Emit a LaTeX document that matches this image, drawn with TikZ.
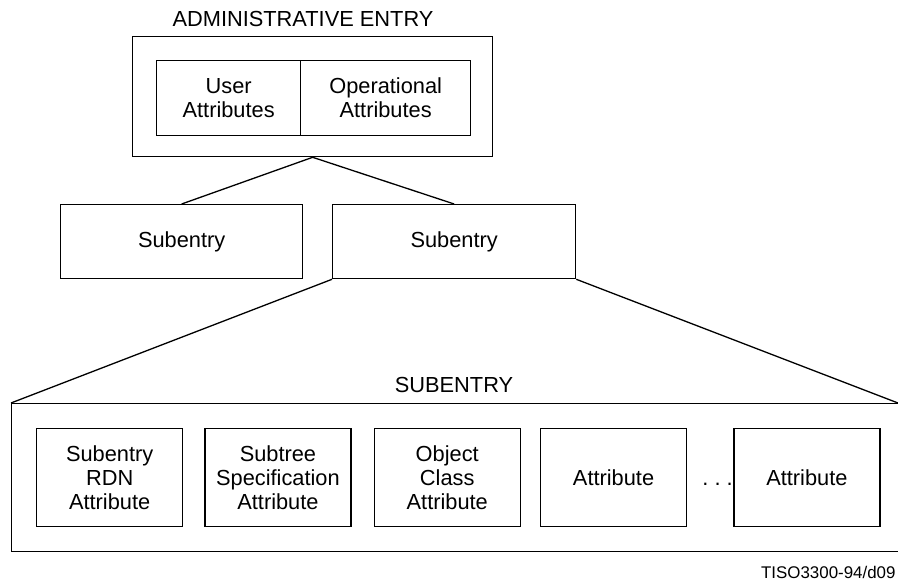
\documentclass[tikz,border=0pt]{standalone}
\usepackage{fontspec}
\setmainfont{Liberation Sans}
\usetikzlibrary{positioning}
\tikzset{
  box/.style = {draw, line width = 1.3pt, inner sep = 0pt, align = center, anchor = north west, font = \fontsize{21.8}{24}\selectfont},
  attrbox/.style = {box, minimum width = 146pt, minimum height = 98pt},
  heading/.style = {anchor = base, font = \fontsize{21.8}{24}\selectfont},
  link/.style = {line width = 1.3pt}
}

\begin{document}
\begin{tikzpicture}[x = 1pt, y = -1pt]
\useasboundingbox (0,0) rectangle (898,580);
\clip (0,0) rectangle (898,580);

\node[heading] (admintitle) at (303,27) {ADMINISTRATIVE ENTRY};
\node[box, minimum width = 360pt, minimum height = 120pt] (admin) at (132,36) {};
\node[box, minimum width = 144pt, minimum height = 75pt] (user) at (156,60) {User\\Attributes};
\node[box, minimum width = 170pt, minimum height = 75pt] (oper) at (300,60) {Operational\\Attributes};

\node[box, minimum width = 242pt, minimum height = 74pt] (lsub) at (60,204) {Subentry};
\node[box, minimum width = 243pt, minimum height = 74pt] (rsub) at (332,204) {Subentry};
\draw[link] (lsub.north) -- (admin.south) -- (rsub.north);

\node[heading] (subtitle) at (454,392) {SUBENTRY};
\node[box, minimum width = 900pt, minimum height = 148pt] (subbox) at (11,403) {};
\coordinate (cut) at (898,403);
\draw[link] (subbox.north west) -- (rsub.south west);
\draw[link] (rsub.south east) -- (cut);

\node[attrbox] (rdn) at (36,428) {Subentry\\RDN\\Attribute};
\node[attrbox, right = 21pt of rdn] (spec) {Subtree\\Specification\\Attribute};
\node[attrbox, right = 22pt of spec] (ocl) {Object\\Class\\Attribute};
\node[attrbox, right = 19pt of ocl] (attr) {Attribute};
\node[attrbox, right = 46pt of attr] (lastattr) {Attribute};
\node[font = \fontsize{21.8}{24}\selectfont, inner sep = 0pt, right = 15pt of attr.base east, anchor = base west] (dots) {.\ .\ .};

\node[anchor = base east, font = \fontsize{16.9}{20}\selectfont] (figid) at (899,578) {TISO3300-94/d09};
\end{tikzpicture}
\end{document}
